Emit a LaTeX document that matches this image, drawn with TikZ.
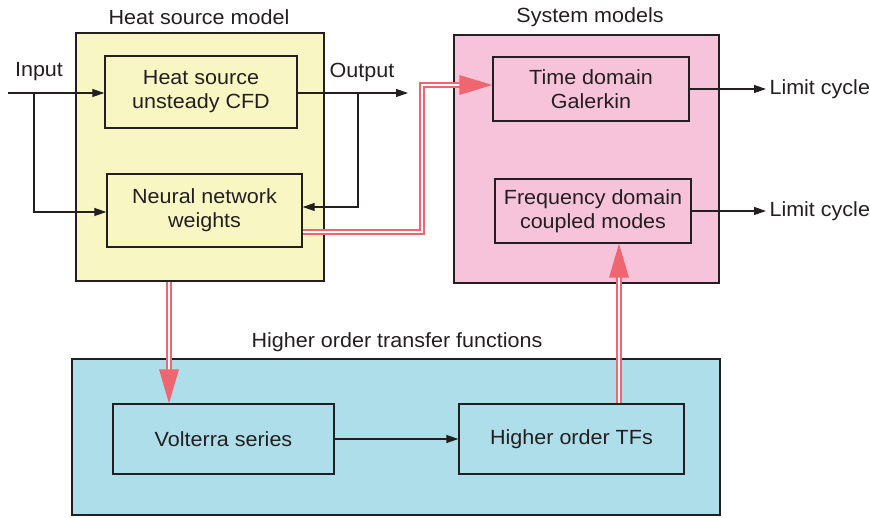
\documentclass[tikz,border=0pt]{standalone}
\usepackage{fontspec}
\setmainfont{Liberation Sans}[FakeStretch=1.05]
\usetikzlibrary{arrows.meta,calc}
\definecolor{hsfill}{HTML}{F8F7C4}
\definecolor{smfill}{HTML}{F7C3DA}
\definecolor{hofill}{HTML}{AEDEE9}
\definecolor{flow}{HTML}{F06670}
\definecolor{ink}{HTML}{231F20}
\begin{document}
\begin{tikzpicture}[x=1pt,y=-1pt,
  font=\fontsize{20.5}{24}\selectfont, text=ink,
  group/.style={draw=ink,line width=1.5pt,inner sep=0pt},
  block/.style={draw=ink,line width=1.4pt,inner sep=0pt,align=center},
  sig/.style={draw=ink,line width=1.2pt,-{Triangle[length=12pt,width=8pt]}},
  line/.style={draw=ink,line width=1.2pt},
  dbl/.style={draw=flow,line width=2pt,double=white,double distance=2pt,line join=miter},
  head/.style={fill=flow}]
\useasboundingbox (0,0) rectangle (870,518);

% group frames
\node[group,fill=hsfill,minimum width=248pt,minimum height=248pt] (hs) at (200,157) {};
\node[group,fill=smfill,minimum width=265pt,minimum height=248pt] (sm) at (586.5,159) {};
\node[group,fill=hofill,minimum width=648pt,minimum height=156pt] (ho) at (396,437) {};

% group titles
\node (hsT) at (199,17) {Heat source model};
\node (smT) at (590,17) {System models};
\node (hoT) at (397,342) {Higher order transfer functions};

% inner blocks
\node[block,minimum width=192pt,minimum height=72pt] (cfd) at (201,92) {Heat source\\unsteady CFD};
\node[block,minimum width=195pt,minimum height=73pt] (nn) at (204.5,210.5) {Neural network\\weights};
\node[block,minimum width=196pt,minimum height=64pt] (td) at (591,89) {Time domain\\Galerkin};
\node[block,minimum width=196pt,minimum height=64pt] (fd) at (593,211) {Frequency domain\\coupled modes};
\node[block,minimum width=221pt,minimum height=70pt] (vs) at (223.5,439) {Volterra series};
\node[block,minimum width=225pt,minimum height=70pt] (tf) at (571.5,439) {Higher order TFs};

% signal labels
\node (inL) at (39,72) {Input};
\node (outL) at (362,72) {Output};
\node[anchor=west] (lc1) at (766,89) {Limit cycle};
\node[anchor=west] (lc2) at (766,211) {Limit cycle};

% input / output signals
\coordinate (inS) at (8,93);
\coordinate (inB) at (34,93);
\coordinate (outE) at (408,93);
\coordinate (outB) at (358,93);
\coordinate (fbY) at (0,207);
\coordinate (nnY) at (0,212);
\draw[sig] (inS) -- (cfd.west|-inS);
\draw[sig] (inB) |- (nn.west|-nnY);
\draw[sig] (cfd.east|-outE) -- (outE);
\draw[sig] (outB) |- (nn.east|-fbY);
\draw[sig] (td.east) -- (lc1.west);
\draw[sig] (fd.east) -- (lc2.west);
\draw[sig] (vs.east) -- (tf.west);

% double flow lines between models
\coordinate (nnOut) at (0,232);
\coordinate (tdIn) at (0,85);
\coordinate (turn) at (422,0);
\draw[dbl] (nn.east|-nnOut) -- (turn|-nnOut) -- (turn|-tdIn) -- ($(td.west|-tdIn)+(-32,0)$);
\fill[head] (td.west|-tdIn) -- ++(-33,-10) -- ++(0,20) -- cycle;

\coordinate (dnX) at (169,0);
\draw[dbl] (dnX|-hs.south) -- ($(dnX|-vs.north)+(0,-32)$);
\fill[head] (dnX|-vs.north) -- ++(-10,-34) -- ++(20,0) -- cycle;

\coordinate (upX) at (619,0);
\draw[dbl] (upX|-tf.north) -- ($(upX|-fd.south)+(0,32)$);
\fill[head] (upX|-fd.south) -- ++(-10,34) -- ++(20,0) -- cycle;
\end{tikzpicture}
\end{document}
